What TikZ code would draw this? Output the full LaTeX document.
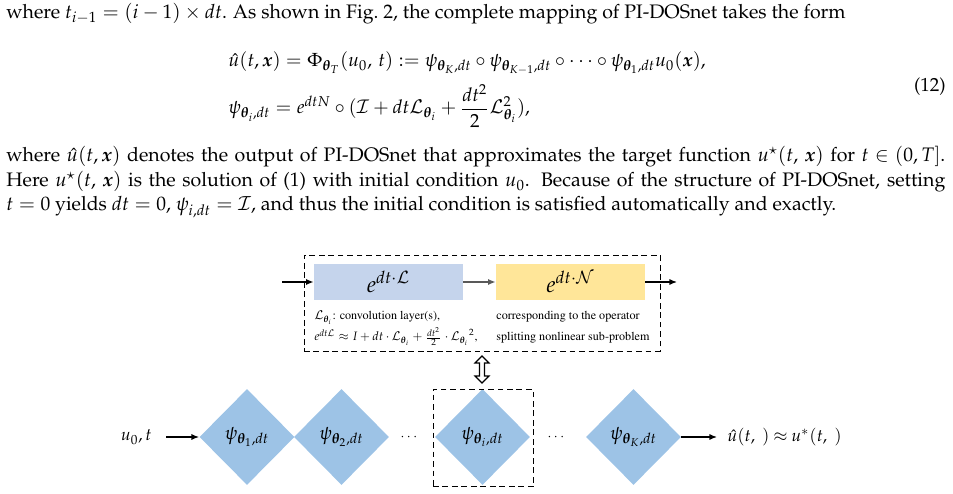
\documentclass[tikz,border=0pt]{standalone}
\usepackage[T1]{fontenc}
\usepackage{mathpazo}
\usepackage{amsmath, amssymb, bm}
\usepackage{tikz}
\usetikzlibrary{arrows.meta, shapes.geometric, positioning}
\definecolor{linblue}{RGB}{197, 212, 236}
\definecolor{nonlinyellow}{HTML}{FFE699}
\definecolor{psiblue}{HTML}{9DC3E6}
\definecolor{arrowgray}{RGB}{89, 89, 89}
\newdimen\px \px=0.527pt
\tikzset{
	opbox/.style={minimum width=78.5pt, minimum height=19pt, inner sep=0},
	psibox/.style={diamond, fill=psiblue, minimum width=50.1pt, minimum height=50.6pt, inner sep=0},
	flow/.style={-{Latex[length=4pt,width=3.2pt]}, line width=0.65pt},
	dashbox/.style={draw, dash pattern=on 3pt off 2pt, line width=0.5pt, inner sep=0},
	note/.style={anchor=base west, inner sep=0, font=\fontfamily{ptm}\fontsize{6.4}{8}\selectfont},
	para/.style={anchor=base west, inner sep=0, font=\fontsize{10.3}{12}\selectfont},
	io/.style={font=\fontsize{9}{11}\selectfont},
	gap/.style={inner sep=0, font=\fontsize{7}{8}\selectfont},
}

\begin{document}
\begin{tikzpicture}[x=0.527pt, y=-0.527pt]
	\useasboundingbox (0,0) rectangle (953,494);
	% text above the figure
	\node[para] (line1) at (6,19) {where $t_{i-1}=(i-1)\times dt$. As shown in Fig.~2, the complete mapping of PI-DOSnet takes the form};
	\node[anchor=base west, inner sep=0] (eqa) at (228,67) {$\displaystyle \hat{u}(t,\bm{x})=\Phi_{\bm{\theta}_T}(u_0,\,t):=\psi_{\bm{\theta}_K,dt}\circ\psi_{\bm{\theta}_{K-1},dt}\circ\cdots\circ\psi_{\bm{\theta}_1,dt}u_0(\bm{x}),$};
	\node[anchor=base west, inner sep=0] (eqb) at (228,114) {$\displaystyle \psi_{\bm{\theta}_i,dt}=e^{dtN}\circ(\mathcal{I}+dt\mathcal{L}_{\bm{\theta}_i}+\frac{dt^2}{2}\mathcal{L}^2_{\bm{\theta}_i}),$};
	\node[anchor=east, inner sep=0] (eqno) at (946,87) {(12)};
	\node[para] (para1) at (6,162) {\thickmuskip=5mu plus 1mu\makebox[939\px][s]{where $\hat{u}(t,\bm{x})$ denotes the output of PI-DOSnet that approximates the target function $u^{\star}(t,\,\bm{x})$ for $t\in(0,T]$.}};
	\node[para] (para2) at (6,187) {\makebox[939\px][s]{Here $u^{\star}(t,\,\bm{x})$ is the solution of (1) with initial condition $u_0$. Because of the structure of PI-DOSnet, setting}};
	\node[para] (para3) at (6,211) {$t=0$ yields $dt=0$, $\psi_{i,dt}=\mathcal{I}$, and thus the initial condition is satisfied automatically and exactly.};
	% one step
	\node[dashbox, minimum width=187.6pt, minimum height=50.6pt] (stepbox) at (482,303) {};
	\node[opbox, fill=linblue] (lin) at (388.5,282) {\large $e^{dt\cdot\mathcal{L}}$};
	\node[opbox, fill=nonlinyellow] (nonlin) at (570.5,282) {\large $e^{dt\cdot\mathcal{N}}$};
	\coordinate (stepin) at (282,282);
	\coordinate (stepout) at (677,282);
	\draw[flow] (stepin) -- (lin);
	\draw[flow, arrowgray] (lin) -- (nonlin);
	\draw[flow] (nonlin) -- (stepout);
	\node[note] (linnote1) at (314,320) {$\mathcal{L}_{\bm{\theta}_i}$: convolution layer(s),};
	\node[note] (linnote2) at (314,341) {$e^{dt\mathcal{L}}\approx I+dt\cdot\mathcal{L}_{\bm{\theta}_i}+\frac{dt^2}{2}\cdot{\mathcal{L}_{\bm{\theta}_i}}^2$,};
	\node[note] (nonlinnote1) at (496,320) {corresponding to the operator};
	\node[note] (nonlinnote2) at (496,341) {splitting nonlinear sub-problem};
	% link between the step and the chain
	\coordinate (link) at (482,369.5);
	\draw[line width=0.6pt, fill=white] (link) ++(0,-13.5) -- ++(7,7) -- ++(-4.5,0) -- ++(0,13) -- ++(4.5,0)
		-- ++(-7,7) -- ++(-7,-7) -- ++(4.5,0) -- ++(0,-13) -- ++(-4.5,0) -- cycle;
	% chain of steps
	\node[psibox] (psi1) at (247,437) {$\psi_{\bm{\theta}_1,dt}$};
	\node[psibox] (psi2) at (341.5,437) {$\psi_{\bm{\theta}_2,dt}$};
	\node[gap] (dots1) at (410,437) {$\cdots$};
	\node[psibox] (psii) at (482.5,437) {$\psi_{\bm{\theta}_i,dt}$};
	\node[dashbox, minimum width=52.7pt, minimum height=51.6pt] (focus) at (483,438) {};
	\node[gap] (dots2) at (557,437) {$\cdots$};
	\node[psibox] (psiK) at (633.5,437) {$\psi_{\bm{\theta}_K,dt}$};
	\node[io, anchor=east, inner xsep=7.4pt] (uin) at (166,437) {$u_0, t$};
	\node[io, anchor=west, inner xsep=5.3pt] (uout) at (717,437) {\thickmuskip=4mu$\hat{u}(t,\ )\approx u^{*}(t,\ )$};
	\draw[flow] (uin) -- (psi1);
	\draw[flow] (psiK) -- (uout);
\end{tikzpicture}
\end{document}
